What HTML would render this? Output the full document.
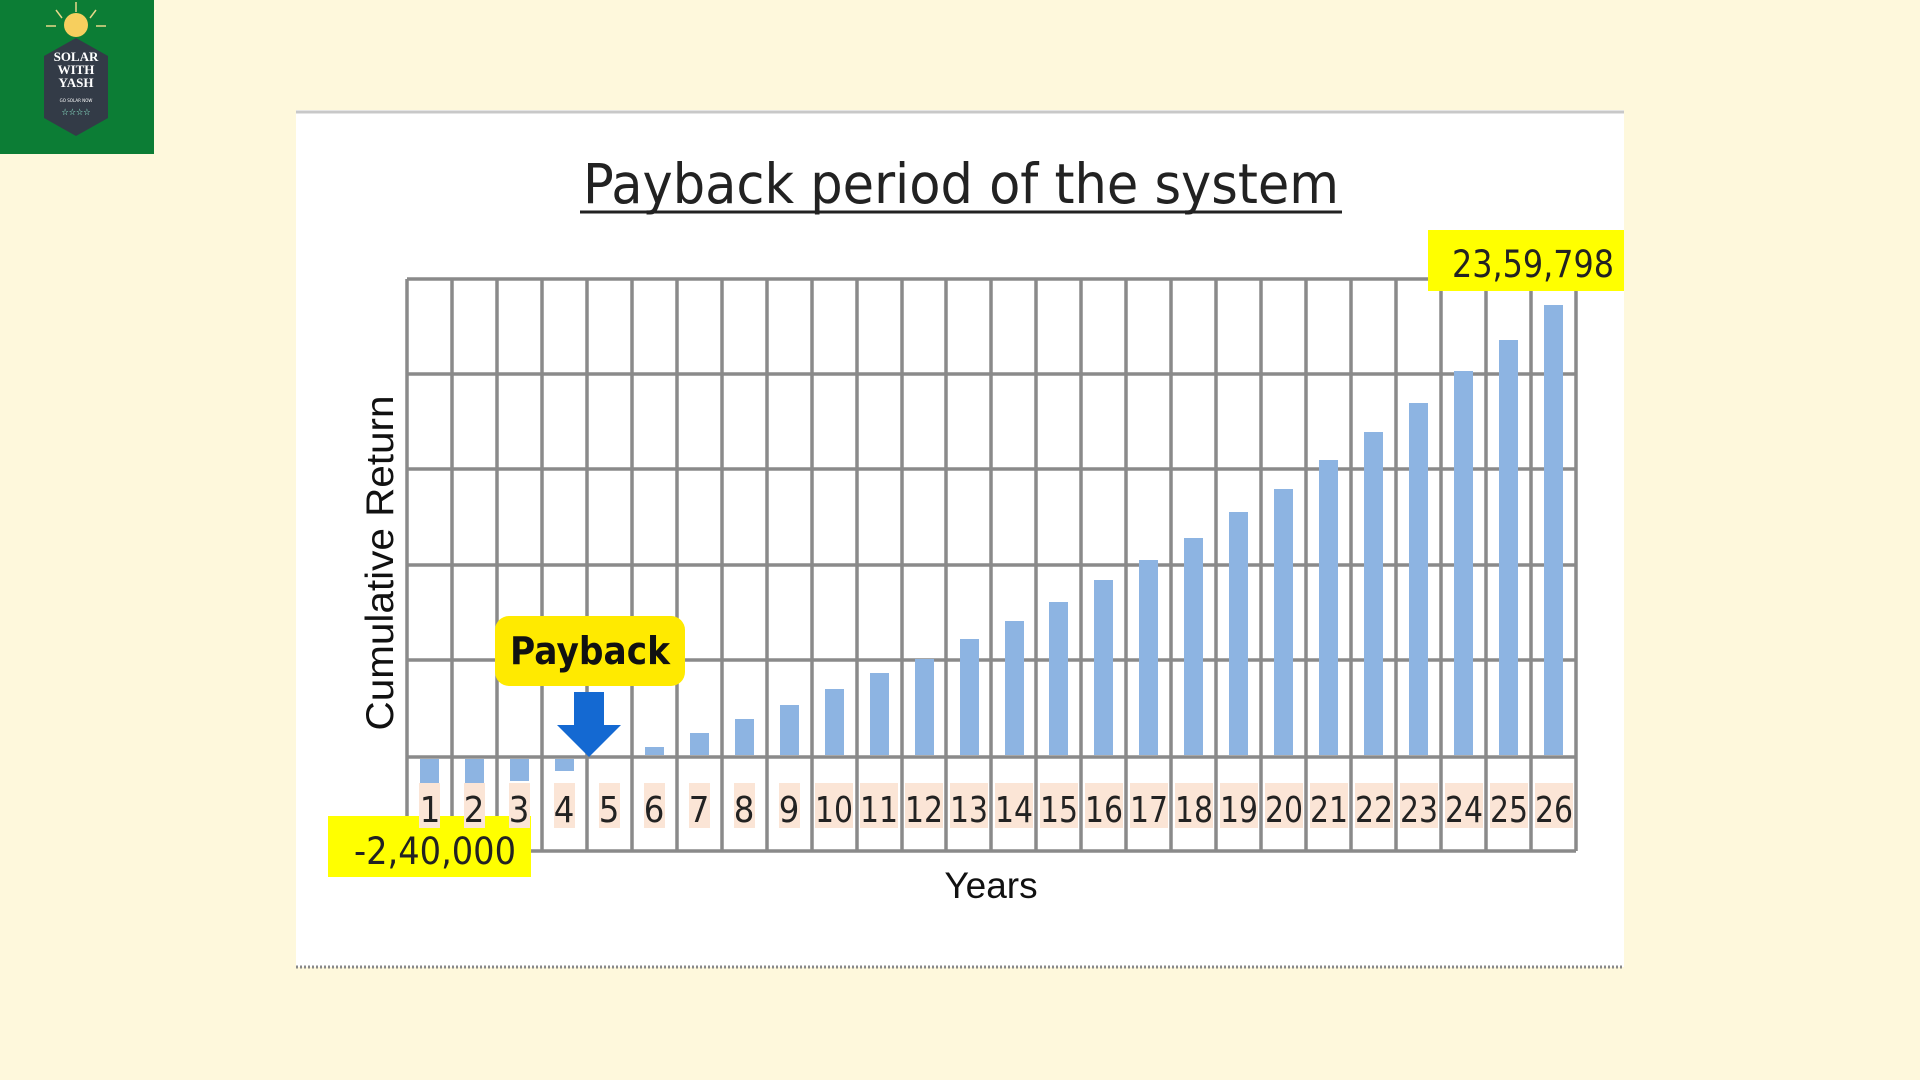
<!DOCTYPE html>
<html><head><meta charset="utf-8"><style>
html,body{margin:0;padding:0;background:#fef8dc;width:1920px;height:1080px;overflow:hidden}
svg{display:block}
</style></head><body>
<svg width="1920" height="1080" viewBox="0 0 1920 1080" xmlns="http://www.w3.org/2000/svg" font-family="'DejaVu Sans Condensed','Liberation Sans',sans-serif">
<rect width="1920" height="1080" fill="#fef8dc"/>
<!-- logo -->
<rect x="0" y="0" width="154" height="154" fill="#0c7d35"/>
<polygon points="76,38 108,56 108,118 76,136 44,118 44,56" fill="#333b47"/>
<g stroke="#e8d88a" stroke-width="1.5">
<line x1="76" y1="2" x2="76" y2="12"/><line x1="56" y1="10" x2="62" y2="18"/><line x1="96" y1="10" x2="90" y2="18"/>
<line x1="46" y1="26" x2="56" y2="26"/><line x1="96" y1="26" x2="106" y2="26"/>
</g>
<circle cx="76" cy="25" r="12" fill="#f7cf5e"/>
<text x="76" y="61" fill="#fff" font-family="'Liberation Serif',serif" font-size="13" text-anchor="middle" font-weight="bold">SOLAR</text>
<text x="76" y="74" fill="#fff" font-family="'Liberation Serif',serif" font-size="13" text-anchor="middle" font-weight="bold">WITH</text>
<text x="76" y="87" fill="#fff" font-family="'Liberation Serif',serif" font-size="13" text-anchor="middle" font-weight="bold">YASH</text>
<text x="76" y="102" fill="#fff" font-size="4.5" text-anchor="middle">GO SOLAR NOW</text>
<text x="76" y="115" fill="#9fd" font-size="9" text-anchor="middle">☆☆☆☆</text>
<!-- panel -->
<rect x="296" y="110" width="1328" height="857" fill="#fff"/>
<line x1="296" y1="112" x2="1624" y2="112" stroke="#c8c8c8" stroke-width="3"/>
<line x1="296" y1="967" x2="1624" y2="967" stroke="#888" stroke-width="3" stroke-dasharray="2,2"/>
<!-- title -->
<text x="961" y="203" font-size="55" text-anchor="middle" fill="#222" textLength="756" lengthAdjust="spacingAndGlyphs">Payback period of the system</text>
<line x1="580" y1="212" x2="1342" y2="212" stroke="#222" stroke-width="3"/>
<!-- yellow low box (behind labels) -->
<rect x="328" y="816" width="203" height="61" fill="#ffff00"/>
<!-- label backgrounds -->
<g fill="#fbe5d6">
<rect x="419" y="783" width="21" height="45"/><rect x="464" y="783" width="21" height="45"/><rect x="509" y="783" width="21" height="45"/><rect x="554" y="783" width="21" height="45"/><rect x="599" y="783" width="21" height="45"/><rect x="644" y="783" width="21" height="45"/><rect x="689" y="783" width="21" height="45"/><rect x="734" y="783" width="21" height="45"/><rect x="779" y="783" width="21" height="45"/>
<rect x="815" y="783" width="38" height="45"/><rect x="860" y="783" width="38" height="45"/><rect x="905" y="783" width="38" height="45"/><rect x="950" y="783" width="38" height="45"/><rect x="995" y="783" width="38" height="45"/><rect x="1040" y="783" width="38" height="45"/><rect x="1085" y="783" width="38" height="45"/><rect x="1130" y="783" width="38" height="45"/><rect x="1175" y="783" width="38" height="45"/><rect x="1220" y="783" width="38" height="45"/><rect x="1265" y="783" width="38" height="45"/><rect x="1310" y="783" width="38" height="45"/><rect x="1355" y="783" width="38" height="45"/><rect x="1400" y="783" width="38" height="45"/><rect x="1445" y="783" width="38" height="45"/><rect x="1490" y="783" width="38" height="45"/><rect x="1535" y="783" width="38" height="45"/>
</g>
<!-- grid -->
<g stroke="#8a8a8a" stroke-width="3.5">
<line x1="407" y1="279" x2="1576" y2="279"/><line x1="407" y1="374" x2="1576" y2="374"/><line x1="407" y1="469" x2="1576" y2="469"/><line x1="407" y1="565" x2="1576" y2="565"/><line x1="407" y1="660" x2="1576" y2="660"/><line x1="407" y1="757" x2="1576" y2="757"/><line x1="531" y1="851" x2="1576" y2="851"/>
<line x1="407" y1="279" x2="407" y2="816"/><line x1="452" y1="279" x2="452" y2="816"/><line x1="497" y1="279" x2="497" y2="816"/><line x1="542" y1="279" x2="542" y2="851"/><line x1="587" y1="279" x2="587" y2="851"/><line x1="632" y1="279" x2="632" y2="851"/><line x1="677" y1="279" x2="677" y2="851"/><line x1="722" y1="279" x2="722" y2="851"/><line x1="767" y1="279" x2="767" y2="851"/><line x1="812" y1="279" x2="812" y2="851"/><line x1="857" y1="279" x2="857" y2="851"/><line x1="902" y1="279" x2="902" y2="851"/><line x1="946" y1="279" x2="946" y2="851"/><line x1="991" y1="279" x2="991" y2="851"/><line x1="1036" y1="279" x2="1036" y2="851"/><line x1="1081" y1="279" x2="1081" y2="851"/><line x1="1126" y1="279" x2="1126" y2="851"/><line x1="1171" y1="279" x2="1171" y2="851"/><line x1="1216" y1="279" x2="1216" y2="851"/><line x1="1261" y1="279" x2="1261" y2="851"/><line x1="1306" y1="279" x2="1306" y2="851"/><line x1="1351" y1="279" x2="1351" y2="851"/><line x1="1396" y1="279" x2="1396" y2="851"/><line x1="1441" y1="279" x2="1441" y2="851"/><line x1="1486" y1="279" x2="1486" y2="851"/><line x1="1531" y1="279" x2="1531" y2="851"/><line x1="1576" y1="279" x2="1576" y2="851"/>
</g>
<!-- bars -->
<g fill="#8db4e2">
<rect x="420" y="759" width="19" height="24"/><rect x="465" y="759" width="19" height="24"/><rect x="510" y="759" width="19" height="22"/><rect x="555" y="759" width="19" height="12"/>
<rect x="645" y="747" width="19" height="8"/><rect x="690" y="733" width="19" height="22"/><rect x="735" y="719" width="19" height="36"/><rect x="780" y="705" width="19" height="50"/><rect x="825" y="689" width="19" height="66"/><rect x="870" y="673" width="19" height="82"/><rect x="915" y="659" width="19" height="96"/><rect x="960" y="639" width="19" height="116"/><rect x="1005" y="621" width="19" height="134"/><rect x="1049" y="602" width="19" height="153"/><rect x="1094" y="580" width="19" height="175"/><rect x="1139" y="560" width="19" height="195"/><rect x="1184" y="538" width="19" height="217"/><rect x="1229" y="512" width="19" height="243"/><rect x="1274" y="489" width="19" height="266"/><rect x="1319" y="460" width="19" height="295"/><rect x="1364" y="432" width="19" height="323"/><rect x="1409" y="403" width="19" height="352"/><rect x="1454" y="371" width="19" height="384"/><rect x="1499" y="340" width="19" height="415"/><rect x="1544" y="305" width="19" height="450"/>
</g>
<!-- year labels -->
<g font-size="36" fill="#222" text-anchor="middle">
<text x="430" y="822">1</text><text x="474" y="822">2</text><text x="519" y="822">3</text><text x="564" y="822">4</text><text x="609" y="822">5</text><text x="654" y="822">6</text><text x="699" y="822">7</text><text x="744" y="822">8</text><text x="789" y="822">9</text>
<text x="834" y="822" textLength="38" lengthAdjust="spacingAndGlyphs">10</text><text x="879" y="822" textLength="38" lengthAdjust="spacingAndGlyphs">11</text><text x="924" y="822" textLength="38" lengthAdjust="spacingAndGlyphs">12</text><text x="969" y="822" textLength="38" lengthAdjust="spacingAndGlyphs">13</text><text x="1014" y="822" textLength="38" lengthAdjust="spacingAndGlyphs">14</text><text x="1059" y="822" textLength="38" lengthAdjust="spacingAndGlyphs">15</text><text x="1104" y="822" textLength="38" lengthAdjust="spacingAndGlyphs">16</text><text x="1149" y="822" textLength="38" lengthAdjust="spacingAndGlyphs">17</text><text x="1194" y="822" textLength="38" lengthAdjust="spacingAndGlyphs">18</text><text x="1239" y="822" textLength="38" lengthAdjust="spacingAndGlyphs">19</text><text x="1284" y="822" textLength="38" lengthAdjust="spacingAndGlyphs">20</text><text x="1329" y="822" textLength="38" lengthAdjust="spacingAndGlyphs">21</text><text x="1374" y="822" textLength="38" lengthAdjust="spacingAndGlyphs">22</text><text x="1419" y="822" textLength="38" lengthAdjust="spacingAndGlyphs">23</text><text x="1464" y="822" textLength="38" lengthAdjust="spacingAndGlyphs">24</text><text x="1509" y="822" textLength="38" lengthAdjust="spacingAndGlyphs">25</text><text x="1554" y="822" textLength="38" lengthAdjust="spacingAndGlyphs">26</text>
</g>
<text x="435" y="864" font-size="37" fill="#222" text-anchor="middle" textLength="162" lengthAdjust="spacingAndGlyphs">-2,40,000</text>
<rect x="1428" y="230" width="196" height="61" fill="#ffff00"/>
<text x="1533" y="277" font-size="37" fill="#222" text-anchor="middle" textLength="162" lengthAdjust="spacingAndGlyphs">23,59,798</text>
<!-- payback -->
<rect x="495" y="616" width="190" height="70" rx="14" fill="#ffea00"/>
<text x="590" y="664" font-size="38" font-weight="bold" fill="#111" text-anchor="middle" font-family="'DejaVu Sans','Liberation Sans',sans-serif" textLength="160" lengthAdjust="spacingAndGlyphs">Payback</text>
<polygon points="574,692 604,692 604,725 621,725 589,757 557,725 574,725" fill="#1469d2"/>
<!-- axis titles -->
<text transform="translate(393,563) rotate(-90)" font-size="39" fill="#111" text-anchor="middle" font-family="'Liberation Sans',sans-serif" textLength="335" lengthAdjust="spacingAndGlyphs">Cumulative  Return</text>
<text x="991" y="898" font-size="37" fill="#111" text-anchor="middle" font-family="'Liberation Sans',sans-serif">Years</text>
</svg>
</body></html>
